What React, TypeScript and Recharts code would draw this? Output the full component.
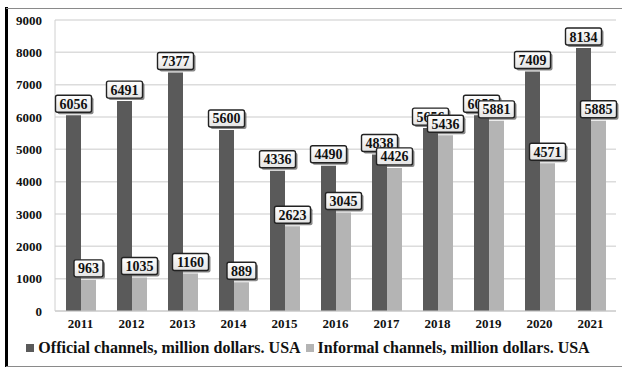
import React from 'react';
import { BarChart, Bar, XAxis, YAxis, CartesianGrid, Legend, LabelList } from 'recharts';

const YEARS = ['2011', '2012', '2013', '2014', '2015', '2016', '2017', '2018', '2019', '2020', '2021'];
const OFFICIAL = [6056, 6491, 7377, 5600, 4336, 4490, 4838, 5656, 6052, 7409, 8134];
const INFORMAL = [963, 1035, 1160, 889, 2623, 3045, 4426, 5436, 5881, 4571, 5885];
const Y_TICKS = [0, 1000, 2000, 3000, 4000, 5000, 6000, 7000, 8000, 9000];

const SERIES = [
  { key: 'official', name: 'Official channels, million dollars. USA', color: '#5a5a5a' },
  { key: 'informal', name: 'Informal channels, million dollars. USA', color: '#b4b4b4' },
];

const data = YEARS.map((year, i) => ({
  year,
  official: OFFICIAL[i],
  informal: INFORMAL[i],
}));

const FONT = '"Liberation Serif", "Times New Roman", serif';

// boxed value label with a small drop shadow, sitting just above the bar
const BoxLabel = (props: any) => {
  const { x, y, width, value } = props;
  const text = String(value);
  const w = text.length * 7 + 8;
  const h = 17;
  const cx = x + width / 2;
  const top = y - 3 - h;
  return (
    <g>
      <rect x={cx - w / 2 + 2} y={top + 2} width={w} height={h} rx={2} fill="#555" opacity={0.7} />
      <rect x={cx - w / 2} y={top} width={w} height={h} rx={2} fill="url(#boxFill)" stroke="#222" strokeWidth={1.4} />
      <text
        x={cx}
        y={top + h / 2 + 5}
        textAnchor="middle"
        fontFamily={FONT}
        fontWeight="bold"
        fontSize={14}
        fill="#111"
      >
        {text}
      </text>
    </g>
  );
};

const renderLegend = () => (
  <div
    style={{
      display: 'flex',
      justifyContent: 'center',
      alignItems: 'center',
      paddingTop: 4,
      fontFamily: FONT,
      fontWeight: 'bold',
      fontSize: 16,
      color: '#111',
      whiteSpace: 'nowrap',
    }}
  >
    {SERIES.map((s, i) => (
      <span key={s.key} style={{ display: 'inline-flex', alignItems: 'center', marginLeft: i ? 5 : 0 }}>
        <span style={{ width: 8, height: 8, background: s.color, marginRight: 4, display: 'inline-block' }} />
        {s.name}
      </span>
    ))}
  </div>
);

const App: React.FC = () => {
  return (
    <div style={{ position: 'absolute', left: 0, top: 0, width: 622, height: 368, background: '#fff' }}>
      {/* frame: heavy left edge, thin grey top and bottom rules */}
      <div style={{ position: 'absolute', left: 5, top: 7, width: 3, height: 360, background: '#000' }} />
      <div style={{ position: 'absolute', left: 6, top: 8, width: 616, height: 1, background: '#8a8a8a' }} />
      <div style={{ position: 'absolute', left: 6, top: 366, width: 616, height: 1, background: '#8a8a8a' }} />
      <BarChart
        width={622}
        height={368}
        data={data}
        margin={{ top: 20, right: 6, left: 0, bottom: 3 }}
        barSize={15}
        barGap={0}
      >
        <defs>
          <linearGradient id="boxFill" x1="0" y1="0" x2="0" y2="1">
            <stop offset="0%" stopColor="#ffffff" />
            <stop offset="100%" stopColor="#e4e4e4" />
          </linearGradient>
        </defs>
        <CartesianGrid vertical={false} stroke="#dcdcdc" strokeWidth={1.5} />
        <XAxis
          dataKey="year"
          height={24}
          tickLine={false}
          axisLine={{ stroke: '#c8c8c8' }}
          tick={{ fontFamily: FONT, fontWeight: 'bold', fontSize: 13, fill: '#111' }}
        />
        <YAxis
          width={55}
          domain={[0, 9000]}
          ticks={Y_TICKS}
          tickLine={false}
          tickSize={6}
          tickMargin={7}
          axisLine={{ stroke: '#d0d0d0' }}
          tick={{ fontFamily: FONT, fontWeight: 'bold', fontSize: 13, fill: '#111' }}
        />
        <Legend verticalAlign="bottom" height={30} content={renderLegend} />
        {SERIES.map((s) => (
          <Bar key={s.key} dataKey={s.key} name={s.name} fill={s.color} isAnimationActive={false}>
            <LabelList dataKey={s.key} content={BoxLabel} />
          </Bar>
        ))}
      </BarChart>
    </div>
  );
};

export default App;
